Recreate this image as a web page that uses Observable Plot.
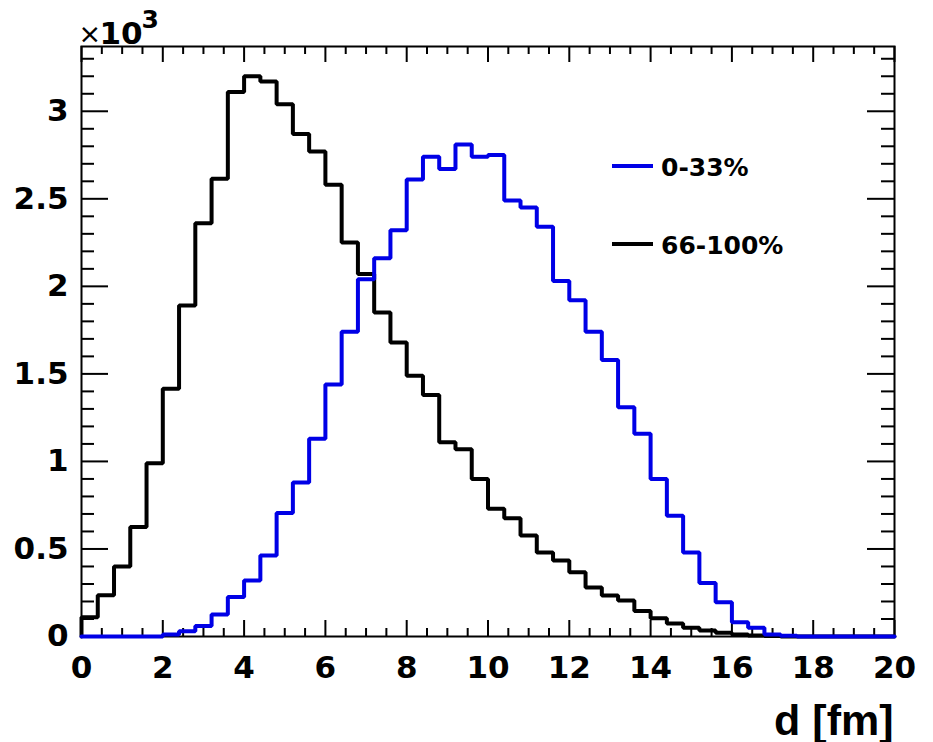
<!DOCTYPE html>
<html>
<head>
<meta charset="utf-8">
<script src="https://cdn.jsdelivr.net/npm/d3@7"></script>
<script src="https://cdn.jsdelivr.net/npm/@observablehq/plot@0.6"></script>
<style>
  body { margin: 0; background: #fff; }
</style>
</head>
<body>
<div id="chart"></div>
<script>
// ---- data (counts in units of 10^3), 50 bins of width 0.4 fm from 0 to 20 ----
const binStart = 0;
const binWidth = 0.4;

// 0-33% (blue)
const central = [
  0, 0, 0, 0, 0, 0.012, 0.03, 0.06, 0.125, 0.225,
  0.32, 0.463, 0.705, 0.88, 1.13, 1.44, 1.74, 2.04, 2.16, 2.32,
  2.61, 2.74, 2.67, 2.81, 2.74, 2.75, 2.49, 2.45, 2.34, 2.03,
  1.92, 1.74, 1.58, 1.31, 1.158, 0.90, 0.69, 0.48, 0.305, 0.196,
  0.082, 0.05, 0.011, 0.005, 0, 0, 0, 0, 0, 0
];

// 66-100% (black)
const peripheral = [
  0.11, 0.235, 0.40, 0.625, 0.99, 1.415, 1.89, 2.36, 2.615, 3.11,
  3.20, 3.17, 3.04, 2.87, 2.77, 2.58, 2.25, 2.07, 1.85, 1.68,
  1.49, 1.38, 1.11, 1.07, 0.90, 0.73, 0.676, 0.577, 0.48, 0.434,
  0.367, 0.28, 0.234, 0.205, 0.146, 0.104, 0.074, 0.05, 0.034, 0.021,
  0.012, 0.006, 0.003, 0, 0, 0, 0, 0, 0, 0
];

const seriesNames = ["0-33%", "66-100%"];
const seriesColors = ["#0000e6", "#000000"];

const xMajor = [0, 2, 4, 6, 8, 10, 12, 14, 16, 18, 20];
const xTickLabels = ["0", "2", "4", "6", "8", "10", "12", "14", "16", "18", "20"];
const yMajor = [0, 0.5, 1, 1.5, 2, 2.5, 3];
const yTickLabels = ["0", "0.5", "1", "1.5", "2", "2.5", "3"];
const xLabel = "d [fm]";
const yExponent = "3";

// ---- layout ----
const W = 933, H = 742;
const mL = 81, mR = 39, mT = 46, mB = 106;
const plotW = W - mL - mR, plotH = H - mT - mB;

const xMinor = d3.range(0, 20.0001, 0.5).filter(v => !xMajor.includes(v));
const yMinor = d3.range(0, 3.3501, 0.1).map(v => +v.toFixed(2)).filter(v => !yMajor.includes(v));

function histPoints(values) {
  const pts = [{x: binStart, y: 0}];
  values.forEach((v, i) => pts.push({x: binStart + i * binWidth, y: v}));
  pts.push({x: binStart + values.length * binWidth, y: values[values.length - 1]});
  return pts;
}

const tickStyle = {stroke: "black", strokeWidth: 2};
const labelFont = "DejaVu Sans";

const plot = Plot.plot({
  width: W,
  height: H,
  marginLeft: mL,
  marginRight: mR,
  marginTop: mT,
  marginBottom: mB,
  style: {background: "white", fontFamily: labelFont, overflow: "visible"},
  x: {domain: [0, 20], label: null},
  y: {domain: [0, 3.37], label: null},
  marks: [
    // ticks bottom/top
    Plot.tickX(xMajor, {x: d => d, ...tickStyle, insetTop: plotH - 16}),
    Plot.tickX(xMinor, {x: d => d, ...tickStyle, insetTop: plotH - 8}),
    Plot.tickX(xMajor, {x: d => d, ...tickStyle, insetBottom: plotH - 16}),
    Plot.tickX(xMinor, {x: d => d, ...tickStyle, insetBottom: plotH - 8}),
    // ticks left/right
    Plot.tickY(yMajor, {y: d => d, ...tickStyle, insetRight: plotW - 27}),
    Plot.tickY(yMinor, {y: d => d, ...tickStyle, insetRight: plotW - 13}),
    Plot.tickY(yMajor, {y: d => d, ...tickStyle, insetLeft: plotW - 27}),
    Plot.tickY(yMinor, {y: d => d, ...tickStyle, insetLeft: plotW - 13}),
    Plot.frame({stroke: "black", strokeWidth: 2}),
    // axes labels
    Plot.axisX({ticks: xMajor, tickSize: 0, tickPadding: 19, fontSize: 31, fontWeight: "bold",
      fontFamily: labelFont, tickFormat: (d) => xTickLabels[xMajor.indexOf(d)], label: null}),
    Plot.axisY({ticks: yMajor, tickSize: 0, tickPadding: 13, fontSize: 31, fontWeight: "bold",
      fontFamily: labelFont, tickFormat: (d) => yTickLabels[yMajor.indexOf(d)], label: null}),
    // histograms
    Plot.line(histPoints(peripheral), {x: "x", y: "y", curve: "step-after",
      stroke: seriesColors[1], strokeWidth: 4, strokeLinejoin: "miter"}),
    Plot.line(histPoints(central), {x: "x", y: "y", curve: "step-after",
      stroke: seriesColors[0], strokeWidth: 4, strokeLinejoin: "miter"}),
    // x axis title
    Plot.text([xLabel], {frameAnchor: "bottom-right", textAnchor: "end", lineAnchor: "bottom",
      dy: 98, dx: -1, fontSize: 43, fontWeight: "bold", fontFamily: "Liberation Sans", fill: "black"}),
    // exponent x10^3
    Plot.text(["\u00d7"], {frameAnchor: "top-left", textAnchor: "start", lineAnchor: "bottom",
      dx: -3, dy: -4, fontSize: 27, fontWeight: "normal", fontFamily: labelFont, fill: "black"}),
    Plot.text(["10"], {frameAnchor: "top-left", textAnchor: "start", lineAnchor: "bottom",
      dx: 18, dy: -3, fontSize: 31, fontWeight: "bold", fontFamily: labelFont, fill: "black"}),
    Plot.text([yExponent], {frameAnchor: "top-left", textAnchor: "start", lineAnchor: "bottom",
      dx: 60, dy: -19, fontSize: 25, fontWeight: "bold", fontFamily: labelFont, fill: "black"})
  ]
});

// legend
const legend = d3.select(plot).append("g").attr("text-anchor", "start");
seriesNames.forEach((name, i) => {
  const y = 166 + 78 * i;
  legend.append("line")
    .attr("x1", 612).attr("x2", 653).attr("y1", y).attr("y2", y)
    .attr("stroke", seriesColors[i]).attr("stroke-width", 4);
  legend.append("text")
    .attr("x", 661).attr("y", y + 10)
    .attr("text-anchor", "start")
    .attr("font-family", labelFont).attr("font-weight", "bold").attr("font-size", 25)
    .attr("fill", "black")
    .text(name);
});

document.getElementById("chart").appendChild(plot);
</script>
</body>
</html>
